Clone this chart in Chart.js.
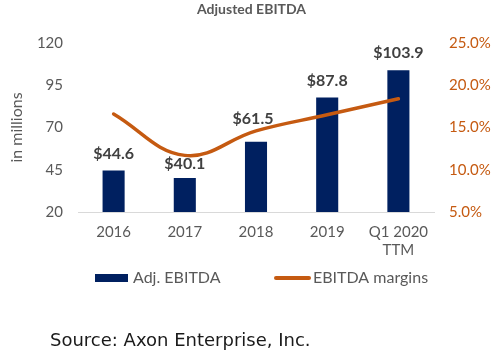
<!DOCTYPE html>
<html>
<head>
<meta charset="utf-8">
<script src="https://cdn.jsdelivr.net/npm/chart.js@4"></script>
<style>
  html, body { margin: 0; padding: 0; background: #ffffff; }
  #wrap { position: relative; width: 503px; height: 356px; }
  #source { position: absolute; left: 50px; top: 329px; font-family: "DejaVu Sans", sans-serif; font-size: 18px; line-height: 22px; color: #1a1a1a; white-space: nowrap; }
</style>
</head>
<body>
<div id="wrap">
  <canvas id="c" width="503" height="356"></canvas>
  <div id="source">Source: Axon Enterprise, Inc.</div>
</div>
<script>
const categories = ["2016", "2017", "2018", "2019", ["Q1 2020", "TTM"]];
const adjEbitda = [44.6, 40.1, 61.5, 87.8, 103.9];
const ebitdaMargins = [16.6, 11.7, 14.6, 16.5, 18.4];
const leftTicks = [20, 45, 70, 95, 120];
const rightTicks = [5, 10, 15, 20, 25];
const chartTitle = "Adjusted EBITDA";
const axisTitle = "in millions";
const seriesNames = ["Adj. EBITDA", "EBITDA margins"];

const NAVY = "#002060";
const ORANGE = "#C55A11";
const GREY = "#595959";
// style: how far above each bar top its value label sits (px)
const labelLift = [17, 14, 23, 17, 17];

const valueLabels = {
  id: "valueLabels",
  afterDatasetsDraw(chart) {
    const meta = chart.getDatasetMeta(0);
    const ctx = chart.ctx;
    ctx.save();
    ctx.font = "bold 16px Lato, sans-serif";
    ctx.fillStyle = "#404040";
    ctx.textAlign = "center";
    ctx.textBaseline = "middle";
    meta.data.forEach((bar, i) => {
      ctx.fillText("$" + adjEbitda[i].toFixed(1), bar.x - (i === 2 ? 3 : 0), bar.y - labelLift[i]);
    });
    ctx.restore();
  }
};

// Legend drawn below the x axis, using dataset labels and colours
const bottomLegend = {
  id: "bottomLegend",
  afterDraw(chart) {
    const ctx = chart.ctx;
    const ds = chart.data.datasets;
    const yc = chart.chartArea.bottom + 66;
    ctx.save();
    ctx.font = "16px Lato, sans-serif";
    ctx.textBaseline = "middle";
    ctx.textAlign = "left";
    ctx.fillStyle = ds[0].backgroundColor;
    ctx.fillRect(95, yc - 4, 33, 8);
    ctx.fillStyle = GREY;
    ctx.fillText(ds[0].label, 133, yc);
    ctx.strokeStyle = ds[1].borderColor;
    ctx.lineWidth = 4;
    ctx.lineCap = "round";
    ctx.beginPath();
    ctx.moveTo(276, yc);
    ctx.lineTo(309, yc);
    ctx.stroke();
    ctx.fillText(ds[1].label, 313, yc);
    ctx.restore();
  }
};

new Chart(document.getElementById("c"), {
  type: "bar",
  data: {
    labels: categories,
    datasets: [
      {
        type: "bar",
        label: seriesNames[0],
        data: adjEbitda,
        backgroundColor: NAVY,
        borderWidth: 0,
        barPercentage: 0.31,
        categoryPercentage: 1.0,
        yAxisID: "y",
        order: 1
      },
      {
        type: "line",
        label: seriesNames[1],
        data: ebitdaMargins,
        borderColor: ORANGE,
        backgroundColor: ORANGE,
        borderWidth: 3.5,
        borderCapStyle: "round",
        pointRadius: 0,
        tension: 0.4,
        fill: false,
        yAxisID: "y1",
        order: 0
      }
    ]
  },
  options: {
    responsive: false,
    animation: false,
    devicePixelRatio: 1,
    layout: { padding: { left: 0, right: 0, top: 0, bottom: 0 } },
    plugins: {
      tooltip: { enabled: false },
      legend: { display: false },
      title: {
        display: true,
        text: chartTitle,
        color: GREY,
        font: { family: "Lato, sans-serif", size: 14, weight: "bold" },
        padding: { top: 1, bottom: 25.2 }
      }
    },
    scales: {
      x: {
        grid: { display: false, drawTicks: false },
        border: { display: true, color: "#d9d9d9", width: 1 },
        ticks: {
          color: GREY,
          font: { family: "Lato, sans-serif", size: 15 },
          padding: 11,
          maxRotation: 0,
          autoSkip: false
        },
        afterFit(scale) { scale.height = 144; }
      },
      y: {
        position: "left",
        min: 20,
        max: 120,
        grid: { display: false, drawTicks: false },
        border: { display: false },
        afterBuildTicks(scale) { scale.ticks = leftTicks.map(v => ({ value: v })); },
        ticks: {
          color: GREY,
          font: { family: "Lato, sans-serif", size: 15 },
          padding: 15
        },
        title: {
          display: true,
          text: axisTitle,
          color: GREY,
          font: { family: "Lato, sans-serif", size: 16 },
          padding: { top: 7, bottom: 0 }
        },
        afterFit(scale) { scale.width = 78; }
      },
      y1: {
        position: "right",
        min: 5,
        max: 25,
        grid: { display: false, drawTicks: false },
        border: { display: false },
        afterBuildTicks(scale) { scale.ticks = rightTicks.map(v => ({ value: v })); },
        ticks: {
          color: ORANGE,
          font: { family: "Lato, sans-serif", size: 15 },
          padding: 15,
          callback: (v) => Number(v).toFixed(1) + "%"
        },
        afterFit(scale) { scale.width = 69; }
      }
    }
  },
  plugins: [valueLabels, bottomLegend]
});
</script>
</body>
</html>
